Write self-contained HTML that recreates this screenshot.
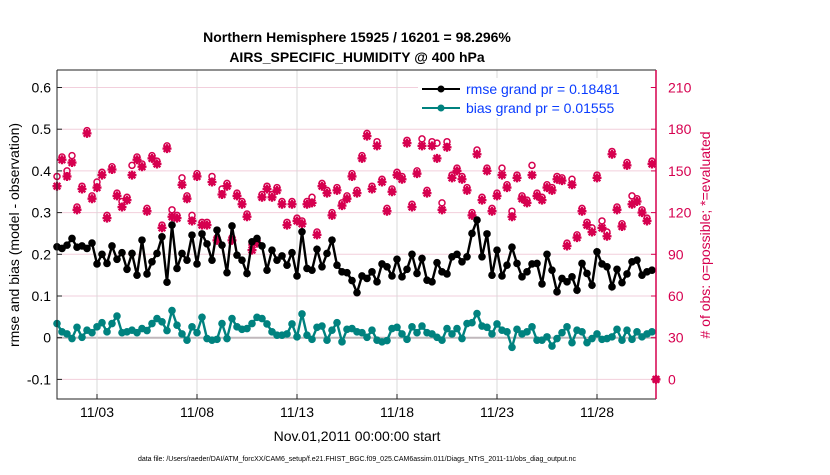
<!DOCTYPE html>
<html><head><meta charset="utf-8"><style>
body{margin:0;background:#fff;font-family:"Liberation Sans",sans-serif}
svg text{font-family:"Liberation Sans",sans-serif}
</style></head><body>
<svg id="chart" width="830" height="470" viewBox="0 0 830 470" xmlns="http://www.w3.org/2000/svg">
<g id="grid"></g>
<g id="series"></g>
<g id="axes"></g>
<text x="357" y="42" text-anchor="middle" font-size="14" font-weight="bold">Northern Hemisphere 15925 / 16201 = 98.296%</text>
<text x="357" y="62" text-anchor="middle" font-size="14" font-weight="bold">AIRS_SPECIFIC_HUMIDITY @ 400 hPa</text>
<text transform="translate(19,235) rotate(-90)" text-anchor="middle" font-size="14">rmse and bias (model - observation)</text>
<text transform="translate(710,235) rotate(-90)" text-anchor="middle" font-size="14" fill="#d6004f"># of obs: o=possible; *=evaluated</text>
<text x="357" y="441" text-anchor="middle" font-size="14">Nov.01,2011 00:00:00 start</text>
<text x="357" y="461" text-anchor="middle" font-size="7">data file: /Users/raeder/DAI/ATM_forcXX/CAM6_setup/f.e21.FHIST_BGC.f09_025.CAM6assim.011/Diags_NTrS_2011-11/obs_diag_output.nc</text>
<g>
<rect x="418" y="78" width="232" height="40" fill="#fff"/>
<line x1="422" y1="89" x2="460" y2="89" stroke="#000" stroke-width="2"/>
<circle cx="441" cy="89" r="3.5" fill="#000"/>
<text x="466" y="94" font-size="14" fill="#0a3cff">rmse grand pr = 0.18481</text>
<line x1="422" y1="108" x2="460" y2="108" stroke="#00827f" stroke-width="2"/>
<circle cx="441" cy="108" r="3.5" fill="#00827f"/>
<text x="466" y="113" font-size="14" fill="#0a3cff">bias grand pr = 0.01555</text>
</g>
</svg>
<script>
const rmse=[0.218,0.214,0.222,0.238,0.217,0.22,0.214,0.227,0.177,0.2,0.178,0.22,0.188,0.204,0.164,0.202,0.15,0.234,0.153,0.182,
0.202,0.242,0.133,0.27,0.166,0.202,0.186,0.246,0.177,0.249,0.225,0.186,0.258,0.222,0.156,0.268,0.198,0.186,0.154,0.23,
0.238,0.22,0.162,0.21,0.186,0.196,0.174,0.204,0.148,0.254,0.166,0.162,0.212,0.17,0.202,0.234,0.174,0.158,0.156,0.137,
0.108,0.148,0.142,0.158,0.134,0.177,0.17,0.148,0.188,0.146,0.164,0.2,0.154,0.19,0.138,0.134,0.18,0.158,0.153,0.194,
0.2,0.182,0.194,0.25,0.282,0.194,0.249,0.15,0.21,0.148,0.174,0.217,0.178,0.146,0.158,0.177,0.178,0.129,0.2,0.162,
0.11,0.142,0.134,0.146,0.114,0.178,0.154,0.126,0.206,0.177,0.17,0.122,0.164,0.132,0.153,0.182,0.186,0.15,0.158,0.162];
const bias=[0.034,0.014,0.009,-0.002,0.025,0.001,0.018,0.012,0.026,0.036,0.014,0.034,0.052,0.012,0.014,0.018,0.012,0.022,0.017,0.034,
0.046,0.038,0.017,0.065,0.03,0.009,-0.006,0.026,0.012,0.049,-0.002,-0.006,-0.004,0.034,-0.002,0.046,0.026,0.02,0.022,0.034,
0.049,0.046,0.033,0.014,0.006,0.006,0.009,0.033,0.002,0.057,0.006,-0.004,0.025,0.028,-0.006,0.018,0.036,-0.01,0.02,0.022,
0.014,0.012,0.001,0.018,-0.006,-0.01,-0.007,0.022,0.025,0.009,-0.004,0.026,0.012,0.028,0.012,0.009,0.001,-0.006,0.022,0.009,
0.022,-0.002,0.034,0.036,0.058,0.028,0.025,0.009,0.033,0.018,0.014,-0.023,0.02,0.009,0.014,0.026,-0.006,-0.006,0.002,-0.02,
-0.002,0.012,0.026,-0.012,0.018,0.014,-0.012,-0.002,0.009,-0.004,-0.002,0.002,0.02,-0.006,0.018,-0.004,0.014,0.002,0.009,0.014];
const evaluated=[139,158,146,156,122,137,177,130,138,147,116,151,132,124,129,147,158,153,121,159,
155,109,166,117,116,140,130,114,146,111,111,142,100,133,139,100,132,126,117,93,
98,131,137,131,136,126,111,126,114,112,126,127,104,139,134,118,136,125,130,146,
134,159,175,137,168,142,121,135,147,144,170,124,148,168,134,168,159,122,167,145,
150,144,136,118,162,129,150,121,132,147,138,117,145,130,127,147,132,129,138,136,
144,143,96,140,102,121,111,106,145,109,103,162,122,110,154,126,128,120,114,155,0];
const possible=[146,160,150,161,124,139,179,132,142,149,118,153,134,128,131,154,160,155,123,161,
157,111,168,122,118,145,132,118,148,113,113,146,102,137,141,102,134,128,119,97,
100,133,139,133,138,128,113,128,116,114,128,131,106,141,136,120,138,127,132,148,
136,161,177,139,171,144,123,137,149,146,172,126,150,173,136,171,170,127,171,147,
152,146,138,120,165,131,152,123,134,152,140,121,147,132,129,154,134,131,140,138,
146,145,98,144,104,123,113,109,147,114,106,164,124,112,156,132,130,122,116,157,0];
const leftTicks=["-0.1","0","0.1","0.2","0.3","0.4","0.5","0.6"];
const rightTicks=["0","30","60","90","120","150","180","210"];
const xTickLabels=["11/03","11/08","11/13","11/18","11/23","11/28"];
const xTickDays=[2,7,12,17,22,27];

const NS="http://www.w3.org/2000/svg";
const L=57,R=656,T=70,B=399;
const X=d=>L+d*20;
const Y=v=>337.7-417*v;
const Yc=c=>Y(c/300-0.1);
const tOf=i=>i*0.25;
function mk(tag,attrs,parent){const e=document.createElementNS(NS,tag);for(const k in attrs)e.setAttribute(k,attrs[k]);parent.appendChild(e);return e;}
const grid=document.getElementById('grid'),series=document.getElementById('series'),axes=document.getElementById('axes');

leftTicks.forEach((lab,i)=>{const v=parseFloat(lab),y=Y(v);
 const g=mk('line',{x1:L,x2:R,y1:y,y2:y,stroke:v===0?'#c0b8bc':'#f2cfdc','stroke-width':v===0?2:1},grid);
 
 
 const tk=mk('line',{x1:L,x2:L+5,y1:y,y2:y,stroke:'#222'},axes);
 
 
 const t=mk('text',{x:L-6,y:y+5,'text-anchor':'end','font-size':14},axes);t.textContent=lab;
 
 
});
rightTicks.forEach(lab=>{const y=Yc(parseFloat(lab));
 const tk=mk('line',{x1:R-5,x2:R,y1:y,y2:y,stroke:'#d6004f'},axes);
 
 
 const t=mk('text',{x:R+12,y:y+5,'font-size':14,fill:'#d6004f'},axes);t.textContent=lab;
 
 
});
xTickDays.forEach((d,i)=>{const x=X(d);
 const g=mk('line',{x1:x,x2:x,y1:T,y2:B,stroke:'#d8d8d8'},grid);
 
 
 const tk=mk('line',{x1:x,x2:x,y1:B-5,y2:B,stroke:'#222'},axes);
 
 
 const t=mk('text',{x:x,y:417,'text-anchor':'middle','font-size':14},axes);t.textContent=xTickLabels[i];
 
 
});
const box=mk('path',{d:`M${L},${T}H${R}M${L},${T}V${B}H${R}`,fill:'none',stroke:'#222','stroke-width':1},axes);


const rax=mk('line',{x1:R,x2:R,y1:T,y2:B,stroke:'#d6004f','stroke-width':1.5},axes);



const cg=mk('g',{},series);


possible.forEach((c,i)=>{const x=i<120?X(tOf(i)):R,y=Yc(c);
 const o=mk('circle',{cx:x,cy:y,r:3,fill:'none',stroke:'#d6004f','stroke-width':1.5},cg);
 
 
});
evaluated.forEach((c,i)=>{const x=i<120?X(tOf(i)):R,y=Yc(c);
 const s=mk('path',{d:`M${x-4.5},${y}H${x+4.5}M${x},${y-4.5}V${y+4.5}M${x-3.3},${y-3.3}L${x+3.3},${y+3.3}M${x-3.3},${y+3.3}L${x+3.3},${y-3.3}`,stroke:'#d6004f','stroke-width':2.3},cg);
 
 
});
function line(arr,color,name){
 const d=arr.map((v,i)=>(i?'L':'M')+X(tOf(i)).toFixed(1)+','+Y(v).toFixed(1)).join('');
 const p=mk('path',{d:d,fill:'none',stroke:color,'stroke-width':2.4},series);
 
 
 arr.forEach((v,i)=>{const c=mk('circle',{cx:X(tOf(i)),cy:Y(v),r:3.8,fill:color},series);
  
  });
}
line(bias,'#00827f','bias');
line(rmse,'#000','rmse');
</script>
</body></html>
